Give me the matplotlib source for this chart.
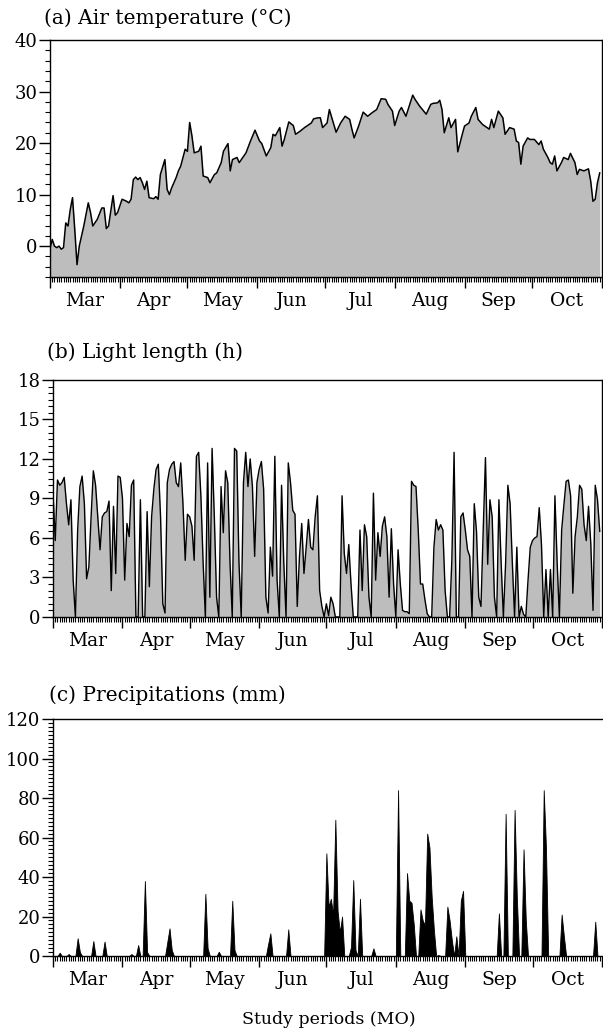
import numpy as np
import matplotlib.pyplot as plt
from matplotlib.ticker import MultipleLocator, FixedLocator

plt.rcParams["font.family"] = ["DejaVu Serif"]

# days counted from 1 March; month boundaries and labels
month_start = [0, 31, 61, 92, 122, 153, 184, 214, 245]
month_names = ["Mar", "Apr", "May", "Jun", "Jul", "Aug", "Sep", "Oct"]

# (a) air temperature, degC (day, value)
temp_day = [0, 1, 2, 3, 4, 5, 6, 7, 8, 9, 10, 11, 12, 13, 15, 17, 18, 19, 21, 23,
            24, 25, 26, 28, 29, 30, 32, 34, 35, 36, 37, 38, 39, 40, 41, 42, 43, 44, 46, 47,
            48, 49, 51, 52, 53, 54, 56, 57, 58, 60, 61, 62, 63, 64, 66, 67, 68, 70, 71, 73,
            74, 76, 77, 79, 80, 81, 83, 84, 87, 89, 91, 93, 94, 96, 98, 99, 100, 102, 103, 104,
            106, 108, 109, 111, 113, 114, 116, 117, 119, 120, 121, 123, 124, 126, 127, 129, 131, 133, 134, 135,
            137, 139, 141, 143, 145, 147, 149, 150, 152, 153, 155, 156, 158, 161, 162, 164, 167, 169, 170, 172,
            173, 174, 175, 177, 178, 180, 181, 183, 184, 186, 187, 189, 190, 192, 193, 195, 196, 197, 199, 201,
            202, 204, 206, 207, 208, 209, 210, 212, 213, 215, 217, 218, 219, 221, 222, 223, 224, 225, 227, 228,
            230, 231, 233, 234, 235, 237, 239, 240, 241, 242, 243, 244]
temp_val = [-0.5, 1.3, 0.0, -0.3, 0.0, -0.6, -0.3, 4.5, 3.9, 7.1, 9.4, 3.2, -3.6, 0.0, 3.9, 8.4, 6.5, 3.9, 5.2, 7.4,
            7.4, 3.4, 3.9, 9.8, 6.0, 6.5, 9.1, 8.7, 8.4, 9.1, 12.9, 13.4, 12.9, 13.3, 12.3, 11.0, 12.6, 9.4, 9.2, 9.6,
            9.1, 13.9, 16.8, 11.0, 10.0, 11.3, 13.3, 14.6, 15.5, 18.8, 18.4, 24.0, 21.4, 18.1, 18.4, 19.4, 13.6, 13.3, 12.3, 13.9,
            14.2, 16.2, 18.4, 19.9, 14.6, 16.8, 17.2, 16.2, 18.1, 20.4, 22.5, 20.4, 19.9, 17.5, 19.1, 21.7, 21.4, 23.0, 19.4, 20.7,
            24.1, 23.4, 21.7, 22.3, 23.0, 23.3, 23.9, 24.7, 24.9, 24.9, 23.0, 23.9, 26.5, 23.6, 22.1, 23.9, 25.2, 24.6, 22.7, 21.0,
            23.3, 26.0, 25.2, 25.9, 26.5, 28.6, 28.5, 27.5, 26.2, 23.4, 26.2, 26.9, 25.2, 29.3, 28.5, 27.2, 25.6, 27.5, 27.7, 27.8,
            28.3, 26.5, 22.0, 24.9, 23.0, 24.6, 18.3, 21.7, 23.3, 23.9, 25.2, 26.9, 24.6, 23.6, 23.3, 22.7, 24.6, 23.0, 26.2, 24.9,
            21.7, 23.0, 22.7, 20.4, 20.1, 15.9, 19.4, 21.0, 20.7, 20.7, 19.7, 20.4, 18.8, 17.2, 16.2, 15.9, 17.5, 14.6, 16.2, 17.2,
            16.8, 18.0, 16.2, 13.9, 14.9, 14.6, 15.0, 12.6, 8.7, 9.1, 12.3, 14.2]

# (b) daily light length, h
light = [9.4, 5.8, 10.4, 10.0, 10.2, 10.6, 8.6, 7.0, 8.9, 2.8,
         0.0, 6.6, 9.9, 10.7, 8.6, 2.9, 3.8, 7.6, 11.1, 10.0,
         7.6, 5.1, 7.6, 7.9, 8.0, 8.8, 2.0, 8.4, 3.3, 10.7,
         10.6, 9.0, 2.8, 7.1, 6.1, 10.0, 10.4, 0.0, 0.0, 8.9,
         0.0, 0.0, 8.0, 2.3, 7.6, 9.7, 11.2, 11.6, 7.6, 1.0,
         0.3, 10.2, 11.2, 11.6, 11.8, 10.2, 9.9, 11.7, 8.6, 4.3,
         7.8, 7.6, 6.9, 4.3, 12.2, 12.5, 9.2, 4.1, 0.0, 11.7,
         1.5, 12.8, 7.6, 1.5, 0.0, 9.9, 6.4, 11.1, 10.2, 4.1,
         0.0, 12.8, 12.6, 4.1, 0.0, 10.2, 12.5, 9.9, 12.0, 9.9,
         4.6, 10.2, 11.2, 11.8, 9.7, 1.5, 0.3, 5.3, 3.1, 12.2,
         2.8, 0.0, 10.0, 4.1, 0.0, 11.7, 10.2, 8.1, 7.8, 0.8,
         4.6, 7.1, 3.3, 5.3, 7.4, 5.3, 5.1, 7.6, 9.2, 2.0,
         0.8, 0.0, 1.0, 0.1, 1.5, 1.0, 0.0, 0.0, 0.0, 9.2,
         4.8, 3.3, 5.5, 2.5, 0.0, 0.0, 0.0, 6.6, 2.0, 7.0,
         6.1, 1.5, 0.0, 9.4, 2.8, 6.4, 4.6, 6.9, 7.6, 6.1,
         1.5, 6.7, 2.5, 0.0, 5.1, 2.5, 0.5, 0.4, 0.4, 0.25,
         10.3, 10.0, 9.9, 6.6, 2.5, 2.5, 1.3, 0.25, 0.0, 0.0,
         5.3, 7.4, 6.6, 7.0, 6.6, 2.0, 0.0, 0.0, 4.3, 12.5,
         0.0, 0.0, 7.6, 7.9, 6.6, 5.1, 4.6, 0.0, 8.6, 6.5,
         1.5, 0.8, 6.6, 12.1, 4.0, 8.9, 7.6, 1.5, 0.0, 8.9,
         4.1, 0.0, 4.1, 10.0, 8.6, 4.1, 0.0, 5.3, 0.0, 0.8,
         0.2, 0.0, 2.8, 5.3, 5.8, 6.0, 6.1, 8.3, 5.5, 0.0,
         3.6, 0.0, 3.6, 0.0, 9.2, 4.1, 0.0, 6.6, 8.5, 10.3,
         10.4, 9.2, 1.8, 6.1, 7.6, 10.0, 9.7, 7.0, 5.8, 8.4,
         5.6, 0.5, 10.0, 8.9, 6.5]

# (c) rainy days and amounts, mm (other days dry)
rain_day = [3, 7, 11, 12, 18, 23, 35, 38, 41, 42, 51, 52, 53, 68, 69, 74, 80, 81, 96, 97,
            105, 122, 123, 124, 125, 126, 127, 128, 129, 133, 134, 135, 137, 143, 154, 158, 159, 160, 161, 164,
            165, 166, 167, 168, 169, 170, 172, 176, 177, 178, 180, 182, 183, 199, 202, 206, 207, 210, 211, 219,
            220, 227, 228, 242]
rain_mm = [1.7, 1.0, 9.0, 2.0, 7.6, 7.3, 1.0, 5.6, 38.0, 2.0, 7.0, 14.0, 3.0, 31.5, 4.0, 2.2, 28.0, 3.0, 6.0, 11.5,
           13.5, 52.0, 25.0, 29.0, 21.0, 69.0, 23.0, 12.0, 20.0, 4.7, 38.5, 3.0, 29.0, 3.9, 84.0, 42.0, 28.0, 27.0, 16.0, 23.6,
           18.0, 15.7, 62.0, 55.0, 30.0, 13.0, 0.5, 25.0, 18.0, 8.0, 10.0, 28.0, 33.0, 21.6, 72.0, 74.0, 30.0, 54.0, 18.0, 84.0,
           55.0, 21.0, 10.0, 17.4]

n_days = month_start[-1] - month_start[0]
days = np.arange(len(light))
rain = np.zeros(n_days)
rain[rain_day] = rain_mm

fig = plt.figure(figsize=(6.03, 10.31), dpi=100)
ax_a = fig.add_axes([0.0829, 0.7313, 0.9154, 0.2299])
ax_b = fig.add_axes([0.0879, 0.4016, 0.9104, 0.2299])
ax_c = fig.add_axes([0.0879, 0.0727, 0.9104, 0.2299])

shade = "#bdbdbd"

ax_a.fill_between(temp_day, temp_val, -6, color=shade, lw=0)
ax_a.plot(temp_day, temp_val, color="black", lw=1.1)
ax_a.set_ylim(-6, 40)
ax_a.yaxis.set_major_locator(MultipleLocator(10))
ax_a.yaxis.set_minor_locator(MultipleLocator(2))

ax_b.fill_between(days, light, 0, color=shade, lw=0)
ax_b.plot(days, light, color="black", lw=1.0)
ax_b.set_ylim(0, 18)
ax_b.yaxis.set_major_locator(MultipleLocator(3))
ax_b.yaxis.set_minor_locator(MultipleLocator(0.5))

ax_c.fill_between(np.arange(n_days), rain, 0, color="black", lw=0.6)
ax_c.set_ylim(0, 120)
ax_c.yaxis.set_major_locator(MultipleLocator(20))
ax_c.yaxis.set_minor_locator(MultipleLocator(2))
ax_c.spines["right"].set_visible(False)

mids = [(a + b) / 2 for a, b in zip(month_start[:-1], month_start[1:])]
for ax in (ax_a, ax_b, ax_c):
    ax.set_xlim(month_start[0], month_start[-1])
    ax.xaxis.set_major_locator(FixedLocator(month_start))
    ax.xaxis.set_minor_locator(MultipleLocator(1))
    ax.set_xticklabels([])
    for x, name in zip(mids, month_names):
        ax.text(x, -0.065, name, transform=ax.get_xaxis_transform(),
                ha="center", va="top", fontsize=13.5)
    ax.tick_params(axis="both", which="major", direction="out", length=8, width=1,
                   labelsize=13, pad=1)
    ax.tick_params(axis="both", which="minor", direction="out", length=3.5, width=0.8)
    ax.tick_params(top=False, right=False, which="both")
    for sp in ax.spines.values():
        sp.set_linewidth(1.0)

fig.text(0.073, 0.982, "(a) Air temperature (°C)", fontsize=14.5, va="center", ha="left")
fig.text(0.078, 0.658, "(b) Light length (h)", fontsize=14.5, va="center", ha="left")
fig.text(0.081, 0.326, "(c) Precipitations (mm)", fontsize=14.5, va="center", ha="left")
fig.text(0.545, 0.011, "Study periods (MO)", fontsize=12.5, va="center", ha="center")

fig.savefig("out.png", dpi=100)
